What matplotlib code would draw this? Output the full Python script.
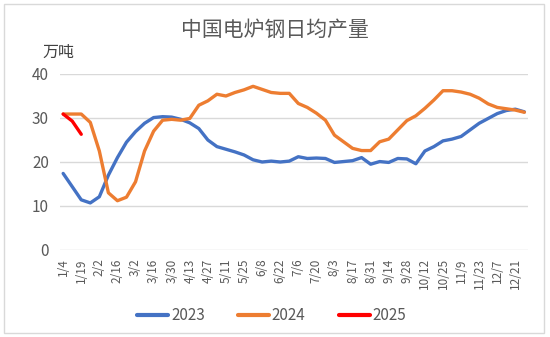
import matplotlib
matplotlib.use("Agg")
import matplotlib.pyplot as plt
from matplotlib.patches import Rectangle

plt.rcParams['font.family'] = ['Noto Sans CJK SC', 'DejaVu Sans']

dates = ["1/4", "1/11", "1/19", "1/26", "2/2", "2/9", "2/16", "2/23", "3/2", "3/9",
         "3/16", "3/23", "3/30", "4/6", "4/13", "4/20", "4/27", "5/4", "5/11", "5/18",
         "5/25", "6/1", "6/8", "6/15", "6/22", "6/29", "7/6", "7/13", "7/20", "7/27",
         "8/3", "8/10", "8/17", "8/24", "8/31", "9/7", "9/14", "9/21", "9/28", "10/5",
         "10/12", "10/19", "10/25", "11/2", "11/9", "11/16", "11/23", "11/30", "12/7",
         "12/14", "12/21", "12/28"]

y2023 = [17.4, 14.4, 11.4, 10.7, 12.1, 17.0, 21.0, 24.5, 26.9, 28.8,
         30.1, 30.3, 30.2, 29.7, 28.9, 27.6, 25.0, 23.5, 22.9, 22.3,
         21.6, 20.5, 20.0, 20.2, 20.0, 20.2, 21.2, 20.8, 20.9, 20.8,
         19.9, 20.1, 20.3, 21.0, 19.5, 20.1, 19.9, 20.8, 20.7, 19.6,
         22.5, 23.5, 24.8, 25.2, 25.8, 27.3, 28.8, 29.9, 31.0, 31.7,
         32.0, 31.4]

y2024 = [30.9, 30.9, 30.9, 29.0, 22.5, 13.0, 11.2, 12.0, 15.5, 22.5,
         27.0, 29.5, 29.7, 29.5, 29.9, 32.9, 33.9, 35.4, 35.0, 35.8,
         36.4, 37.2, 36.5, 35.8, 35.6, 35.6, 33.3, 32.4, 31.1, 29.5,
         26.1, 24.6, 23.1, 22.6, 22.6, 24.6, 25.2, 27.3, 29.4, 30.5,
         32.2, 34.1, 36.2, 36.2, 35.9, 35.4, 34.5, 33.2, 32.4, 32.1,
         31.8, 31.3]

y2025 = [30.9, 29.3, 26.3]

series = [("2023", y2023, "#4472C4"), ("2024", y2024, "#ED7D31"), ("2025", y2025, "#FF0000")]
yticks = [0, 10, 20, 30, 40]

W, H = 550, 337
fig = plt.figure(figsize=(W / 100, H / 100), dpi=100)
ax = fig.add_axes([60 / W, 1 - 250 / H, 468 / W, 176 / H])

x = list(range(len(dates)))
for name, vals, color in series:
    ax.plot(x[:len(vals)], vals, color=color, lw=2.4, label=name,
            solid_joinstyle='round', solid_capstyle='round')

ax.set_xlim(-0.35, len(dates) - 0.6)
ax.set_ylim(0, 40)
ax.set_yticks(yticks)
ax.set_xticks(x[::2])
ax.set_xticklabels(dates[::2], rotation=90, fontsize=8.5, color="#595959")
ax.tick_params(axis='y', labelsize=11, labelcolor="#595959", length=0, pad=8)
ax.tick_params(axis='x', length=0, pad=6)
ax.grid(axis='y', color="#D9D9D9", lw=1)
ax.set_axisbelow(True)
for s in ax.spines.values():
    s.set_visible(False)

fig.text(275 / W, 1 - 30 / H, "中国电炉钢日均产量", ha='center', va='center',
         fontsize=15, color="#595959")
fig.text(58 / W, 1 - 52 / H, "万吨", ha='center', va='center',
         fontsize=11.5, color="#404040")

leg = fig.legend(loc='center', bbox_to_anchor=(272 / W, 1 - 316 / H), ncol=3, frameon=False,
                 fontsize=11, handlelength=2.0, handletextpad=0.2, columnspacing=2.2,
                 labelcolor="#595959")
for line in leg.get_lines():
    line.set_linewidth(3)

fig.patches.append(Rectangle((4 / W, 4 / H), 540 / W, 329 / H, transform=fig.transFigure,
                             fill=False, edgecolor="#D9D9D9", lw=1))

fig.savefig("out.png", dpi=100)
